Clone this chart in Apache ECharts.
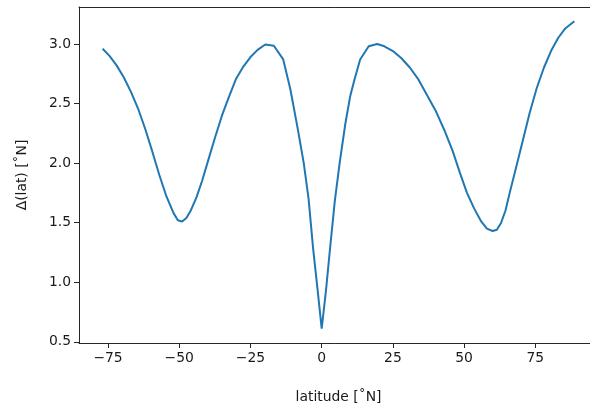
<!DOCTYPE html>
<html>
<head>
<meta charset="utf-8">
<script src="https://cdn.jsdelivr.net/npm/echarts@6/dist/echarts.min.js"></script>
<style>html,body{margin:0;padding:0;background:#fff}#c{width:590px;height:406px}</style>
</head>
<body>
<div id="c"></div>
<script>
const latitude = [-76.9,-74.5,-72,-69.5,-67,-64.5,-62,-59.5,-57,-54.5,-52,-50.5,-49,-47.5,-46,-44,-42,-40,-37.5,-35,-32.5,-30,-27.5,-25,-22.5,-19.8,-16.8,-13.5,-11,-8.5,-6.3,-4.6,-3,-1.5,0,1.5,3,4.6,6.3,8.3,10,11.5,13.5,16.5,19.5,22,25,28,31,34,37,40,43,46,48.5,51,53.5,56,58,60,61.5,63,64.5,66,68,70.5,73,75.5,78,80.5,83,85.5,88.7];
const deltaLat = [2.96,2.90,2.82,2.72,2.60,2.46,2.29,2.10,1.90,1.72,1.58,1.52,1.51,1.54,1.60,1.71,1.85,2.01,2.21,2.40,2.56,2.71,2.81,2.89,2.95,2.995,2.985,2.87,2.62,2.30,2.00,1.70,1.28,0.95,0.61,0.93,1.30,1.68,2.00,2.33,2.56,2.70,2.87,2.98,3.00,2.98,2.94,2.88,2.80,2.70,2.57,2.44,2.28,2.10,1.92,1.75,1.62,1.51,1.45,1.43,1.44,1.50,1.60,1.75,1.94,2.18,2.42,2.63,2.80,2.94,3.05,3.13,3.19];
const xTicks = [-75,-50,-25,0,25,50,75];
const yTicks = [0.5,1.0,1.5,2.0,2.5,3.0];

const chart = echarts.init(document.getElementById('c'), null, {renderer:'canvas'});
const font = 'DejaVu Sans';
const axisCol = '#262626';
chart.setOption({
  animation:false,
  backgroundColor:'#fff',
  grid:{left:79, top:7, width:519, height:336, outerBoundsMode:'none', containLabel:false, show:false},
  xAxis:[{
    type:'value', min:-85.2, max:97.0, position:'bottom',
    name:'latitude [˚N]', nameLocation:'middle', nameGap:47,
    nameTextStyle:{fontFamily:font, fontSize:13.9, color:'#1a1a1a'},
    axisLine:{show:true, onZero:false, lineStyle:{color:axisCol, width:1}},
    axisTick:{show:true, length:5, lineStyle:{color:axisCol, width:1}, customValues:xTicks},
    axisLabel:{fontFamily:font, fontSize:13.9, color:'#1a1a1a', margin:8, customValues:xTicks,
      formatter:v=>String(v).replace('-','\u2212')},
    splitLine:{show:false}
  },{
    type:'value', min:-85.2, max:97.0, position:'top',
    axisLine:{show:true, onZero:false, lineStyle:{color:axisCol, width:1}},
    axisTick:{show:false}, axisLabel:{show:false}, splitLine:{show:false}
  }],
  yAxis:{
    type:'value', min:0.49, max:3.31,
    name:'Δ(lat) [˚N]', nameLocation:'middle', nameGap:50, nameRotate:90,
    nameTextStyle:{fontFamily:font, fontSize:13.9, color:'#1a1a1a'},
    axisLine:{show:true, onZero:false, lineStyle:{color:axisCol, width:1}},
    axisTick:{show:true, length:5, lineStyle:{color:axisCol, width:1}, customValues:yTicks},
    axisLabel:{fontFamily:font, fontSize:13.9, color:'#1a1a1a', margin:8, customValues:yTicks,
      formatter:v=>v.toFixed(1)},
    splitLine:{show:false}
  },
  series:[{
    type:'line', xAxisIndex:0, data:latitude.map((x,i)=>[x,deltaLat[i]]),
    showSymbol:false, symbol:'none', smooth:false,
    lineStyle:{color:'#1f77b4', width:2}
  }]
});
</script>
</body>
</html>
